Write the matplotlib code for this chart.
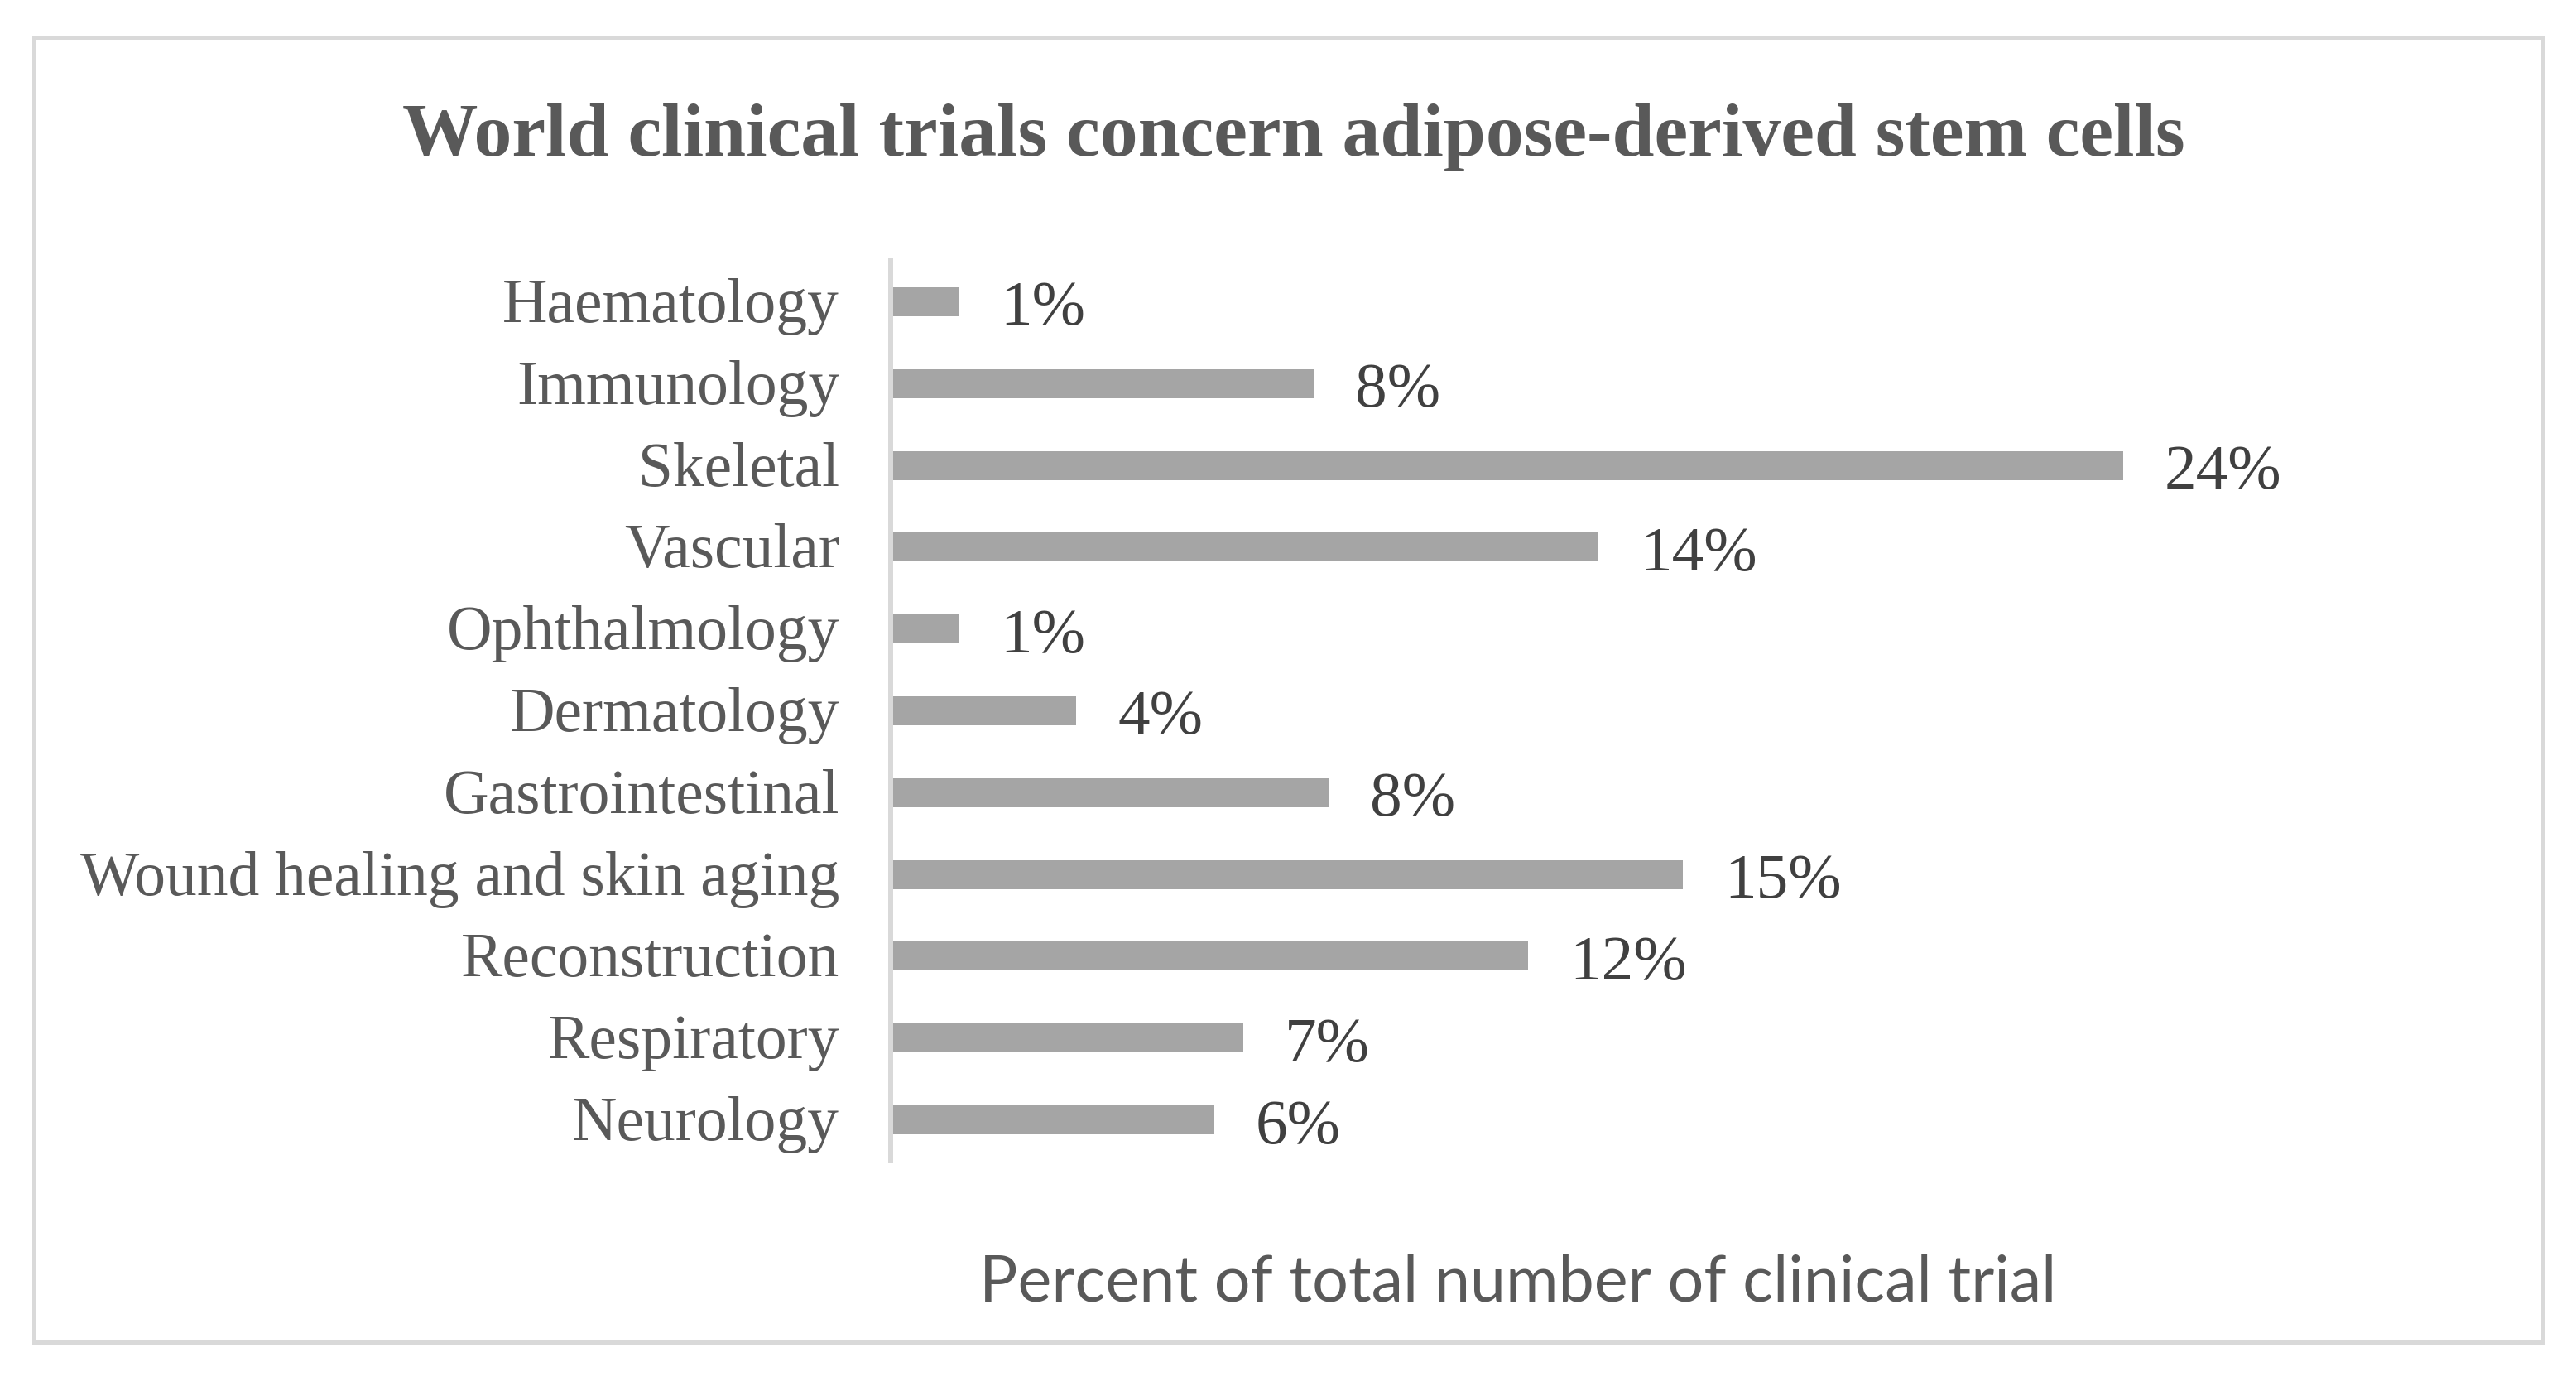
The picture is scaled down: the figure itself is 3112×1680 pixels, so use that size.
import matplotlib
matplotlib.use("Agg")
import matplotlib.pyplot as plt
from matplotlib.patches import Rectangle

# ---- data (top to bottom as shown) ----
categories = ["Haematology", "Immunology", "Skeletal", "Vascular", "Ophthalmology",
              "Dermatology", "Gastrointestinal", "Wound healing and skin aging",
              "Reconstruction", "Respiratory", "Neurology"]
percent_values = [1.31, 8.09, 23.58, 13.54, 1.31, 3.55, 8.38, 15.16, 12.20, 6.75, 6.19]
title_text = "World clinical trials concern adipose-derived stem cells"
xlabel_text = "Percent of total number of clinical trial"

W, H, DPI = 3112, 1680, 200
fig = plt.figure(figsize=(W / DPI, H / DPI), dpi=DPI)
fig.patch.set_facecolor("white")

def fx(px):
    return px / W

def fy(py):
    return 1 - py / H

# outer border
fig.add_artist(Rectangle((fx(41), fy(1620.5)), fx(3072 - 41), (1620.5 - 44.5) / H,
                         transform=fig.transFigure, fill=False,
                         edgecolor="#D9D9D9", linewidth=5 * 72 / DPI))

# axes
ax_left, ax_right, ax_top, ax_bottom = 1076, 2591.4, 315, 1402
ax = fig.add_axes([fx(ax_left), fy(ax_bottom), fx(ax_right - ax_left), (ax_bottom - ax_top) / H])
n = len(categories)
ypos = list(range(n))
ax.barh(ypos, percent_values, height=0.355, color="#A5A5A5", zorder=1)
ax.set_xlim(0, 24)
ax.set_ylim(n - 0.5, -0.5)
for s in ["top", "right", "bottom"]:
    ax.spines[s].set_visible(False)
ax.spines["left"].set_color("#D9D9D9")
ax.spines["left"].set_linewidth(6 * 72 / DPI)
ax.spines["left"].set_zorder(3)
ax.set_xticks([])
ax.set_yticks([])
ax.set_facecolor("none")

serif = ["Liberation Serif", "DejaVu Serif"]

# category labels
for i, c in enumerate(categories):
    ax.annotate(c, xy=(0, i), xycoords=("axes fraction", "data"),
                xytext=(-62, -24.5), textcoords="offset pixels",
                ha="right", va="baseline", fontsize=27.2, family=serif,
                color="#595959", annotation_clip=False)

# data labels
for i, v in enumerate(percent_values):
    ax.annotate(f"{v:.0f}%", xy=(v, i), xycoords="data",
                xytext=(50, -28), textcoords="offset pixels",
                ha="left", va="baseline", fontsize=27.8, family=serif,
                color="#404040", annotation_clip=False)

# title
fig.text(fx(1563), fy(188), title_text, ha="center", va="baseline",
         fontsize=33.0, fontweight="bold", family=serif, color="#595959")

# x-axis title
fig.text(fx(1834), fy(1572), xlabel_text, ha="center", va="baseline",
         fontsize=27.8, family=["Lato", "DejaVu Sans"], color="#595959")

fig.savefig("out.png", dpi=DPI, facecolor="white")
